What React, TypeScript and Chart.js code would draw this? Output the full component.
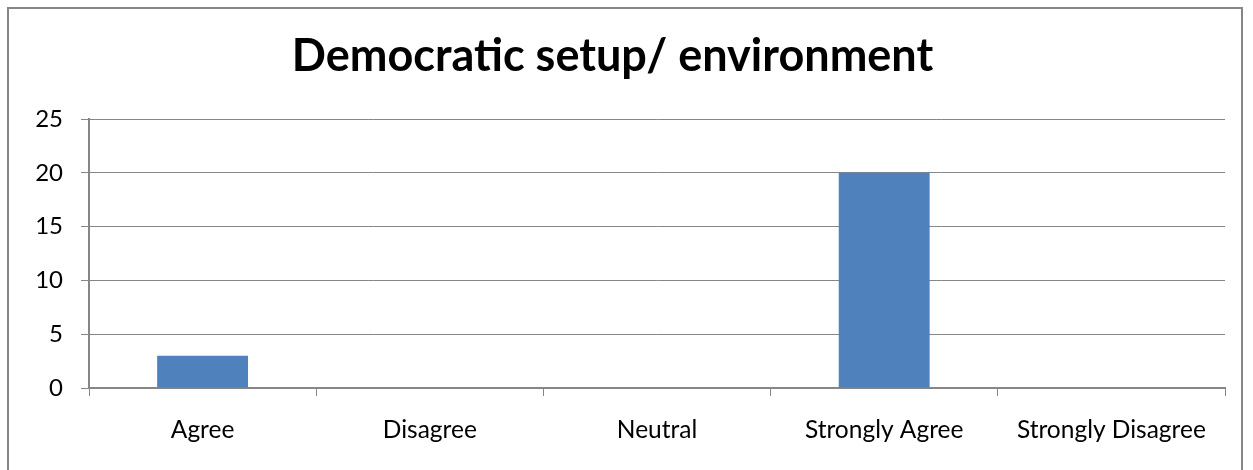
import React, { useEffect, useRef } from "react";
import { Chart, registerables } from "chart.js";

Chart.register(...registerables);

const categories = ["Agree", "Disagree", "Neutral", "Strongly Agree", "Strongly Disagree"];
const values = [3, 0, 0, 20, 0];
const titleText = "Democratic setup/ environment";
const yTicks = [0, 5, 10, 15, 20, 25];

const GRID = "#868686";
const BAR = "#4F81BD";
const FONT = "Lato, 'Open Sans', sans-serif";

export default function App() {
  const ref = useRef<HTMLCanvasElement | null>(null);
  useEffect(() => {
    if (!ref.current) return;
    const chart = new Chart(ref.current, {
      type: "bar",
      data: {
        labels: categories,
        datasets: [
          {
            data: values,
            backgroundColor: BAR,
            borderWidth: 0,
            barPercentage: 0.4,
            categoryPercentage: 1,
          },
        ],
      },
      options: {
        animation: false,
        responsive: false,
        maintainAspectRatio: false,
        layout: { padding: { left: 0, right: 28, top: 0, bottom: 0 } },
        plugins: {
          legend: { display: false },
          tooltip: { enabled: false },
          title: {
            display: true,
            text: titleText,
            color: "#000",
            font: { family: FONT, size: 45, weight: "bold", lineHeight: 1.2 },
            padding: { top: 29, bottom: 36 },
          },
        },
        scales: {
          x: {
            grid: {
              display: true,
              drawOnChartArea: false,
              drawTicks: true,
              tickLength: 8,
              color: GRID,
              offset: true,
            },
            border: { display: true, color: GRID, width: 2 },
            ticks: { color: "#000", font: { family: FONT, size: 24.5 }, padding: 19, maxRotation: 0 },
            afterFit: (s: any) => {
              s.height = 82;
            },
          },
          y: {
            min: 0,
            max: 25,
            afterBuildTicks: (s: any) => {
              s.ticks = yTicks.map((v) => ({ value: v }));
            },
            grid: { color: GRID, lineWidth: 1, tickLength: 8, drawTicks: true },
            border: { display: true, color: GRID, width: 2 },
            ticks: { color: "#000", font: { family: FONT, size: 24 }, padding: 18 },
            afterFit: (s: any) => {
              s.width = 89;
            },
          },
        },
      },
    });
    return () => chart.destroy();
  }, []);
  return (
    <div>
      <div
        style={{
          position: "absolute",
          left: 7,
          top: 7,
          width: 1236,
          height: 520,
          border: "2px solid " + GRID,
          boxSizing: "border-box",
        }}
      />
      <canvas
        ref={ref}
        width={1253}
        height={470}
        style={{ position: "absolute", left: 0, top: 0, width: 1253, height: 470 }}
      />
    </div>
  );
}
